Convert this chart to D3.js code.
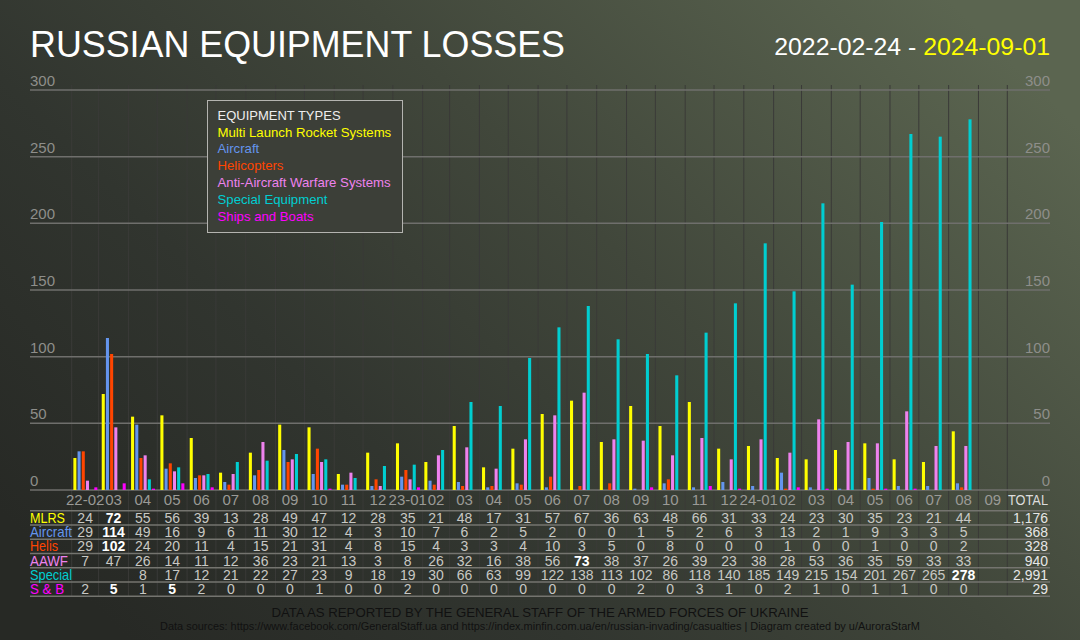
<!DOCTYPE html>
<html>
<head>
<meta charset="utf-8">
<script src="https://cdn.jsdelivr.net/npm/d3@7"></script>
<style>
    body { margin: 0; background: #2b2e2a; }
    svg { display: block; font-family: "Liberation Sans", Arial, sans-serif; }
</style>
</head>
<body>
<svg width="1080" height="640"></svg>
<script>
// Month labels, Feb 2022 .. Sep 2024
var monthLabels = ['22-02','03','04','05','06','07','08','09','10','11','12',
    '23-01','02','03','04','05','06','07','08','09','10','11','12',
    '24-01','02','03','04','05','06','07','08','09'];

// Monthly losses per equipment type (null = no value given)
var mlrs     = [24,72,55,56,39,13,28,49,47,12,28,35,21,48,17,31,57,67,36,63,48,66,31,33,24,23,30,35,23,21,44];
var aircraft = [29,114,49,16,9,6,11,30,12,4,3,10,7,6,2,5,2,0,0,1,5,2,6,3,13,2,1,9,3,3,5];
var helis    = [29,102,24,20,11,4,15,21,31,4,8,15,4,3,3,4,10,3,5,0,8,0,0,0,1,0,0,1,0,0,2];
var aawf     = [7,47,26,14,11,12,36,23,21,13,3,8,26,32,16,38,56,73,38,37,26,39,23,38,28,53,36,35,59,33,33];
var special  = [null,null,8,17,12,21,22,27,23,9,18,19,30,66,63,99,122,138,113,102,86,118,140,185,149,215,154,201,267,265,278];
var shipsBoats = [2,5,1,5,2,0,0,0,1,0,0,2,0,0,0,0,0,0,0,2,0,3,1,0,2,1,0,1,1,0,0];

// Totals as printed in the table
var totals = ['1,176','368','328','940','2,991','29'];

var seriesNames  = ['MLRS','Aircraft','Helis','AAWF','Special','S & B'];
var legendNames  = ['Multi Launch Rocket Systems','Aircraft','Helicopters',
    'Anti-Aircraft Warfare Systems','Special Equipment','Ships and Boats'];
var seriesColors = ['#ffff00','#6495ed','#ff4500','#ee82ee','#00ced1','#ff00ff'];
var seriesValues = [mlrs, aircraft, helis, aawf, special, shipsBoats];

var yTicks = [0,50,100,150,200,250,300];

var svg = d3.select('svg');

// Background gradient, dark on the left to olive on the right
var defs = svg.append('defs');
var grad = defs.append('linearGradient')
    .attr('id','bg')
    .attr('x1','0').attr('y1','0.8')
    .attr('x2','1').attr('y2','0.2');
grad.append('stop').attr('offset','0').attr('stop-color','#272925');
grad.append('stop').attr('offset','0.3').attr('stop-color','#31352f');
grad.append('stop').attr('offset','0.6').attr('stop-color','#41473b');
grad.append('stop').attr('offset','1').attr('stop-color','#5b6550');
svg.append('rect').attr('width',1080).attr('height',640).attr('fill','url(#bg)');

// Scales: time scale for months, band scale for bars inside a month
var firstMonth = new Date(Date.UTC(2022,1,1));
var endMonth = new Date(Date.UTC(2024,9,1));
var x = d3.scaleUtc().domain([firstMonth, endMonth]).range([71.7, 1007.3]);
var y = d3.scaleLinear().domain([0,300]).range([490,90]);
var inner = d3.scaleBand().domain(d3.range(6)).range([-11.8,12.2]).paddingInner(0.27);

function monthStart(i) { return new Date(Date.UTC(2022, 1 + i, 1)); }
function monthMid(i) { return (x(monthStart(i)) + x(monthStart(i + 1))) / 2; }

var tableTop = 510.7;
var rowH = 14.27;
var tableBottom = tableTop + rowH * 6;

// Vertical month lines
svg.append('g').selectAll('line')
    .data(d3.range(monthLabels.length + 1))
    .enter().append('line')
    .attr('x1', function(i){ return x(monthStart(i)); })
    .attr('x2', function(i){ return x(monthStart(i)); })
    .attr('y1', 85)
    .attr('y2', tableBottom)
    .attr('stroke','#3a3a38')
    .attr('stroke-width',1);

// Horizontal grid + y labels on both sides
var grid = svg.append('g');
grid.selectAll('line')
    .data(yTicks)
    .enter().append('line')
    .attr('x1',30).attr('x2',1050)
    .attr('y1', function(d){ return y(d); })
    .attr('y2', function(d){ return y(d); })
    .attr('stroke','#6f6f6c')
    .attr('stroke-width',1.5);
grid.selectAll('.yl')
    .data(yTicks)
    .enter().append('text')
    .attr('class','yl')
    .attr('x',30)
    .attr('y', function(d){ return y(d) - 4; })
    .attr('fill','#8e8e8a')
    .attr('font-size',15)
    .text(function(d){ return d; });
grid.selectAll('.yr')
    .data(yTicks)
    .enter().append('text')
    .attr('class','yr')
    .attr('x',1050)
    .attr('y', function(d){ return y(d) - 4; })
    .attr('text-anchor','end')
    .attr('fill','#8e8e8a')
    .attr('font-size',15)
    .text(function(d){ return d; });

// Bars
var barData = [];
seriesValues.forEach(function(vals, s){
    vals.forEach(function(v, i){
        if (v !== null) barData.push({s: s, i: i, v: v});
    });
});
svg.append('g').selectAll('rect')
    .data(barData)
    .enter().append('rect')
    .attr('x', function(d){ return monthMid(d.i) + inner(d.s); })
    .attr('width', inner.bandwidth())
    .attr('y', function(d){ return y(d.v); })
    .attr('height', function(d){ return y(0) - y(d.v); })
    .attr('fill', function(d){ return seriesColors[d.s]; });

// Legend box
var legend = svg.append('g').attr('transform','translate(207.5,100.5)');
legend.append('rect')
    .attr('width',195).attr('height',132)
    .attr('fill','#3c3f38')
    .attr('stroke','#b4b4b0')
    .attr('stroke-width',1);
legend.append('text')
    .attr('x',10).attr('y',19)
    .attr('fill','#eeeeee')
    .attr('font-size',13)
    .text('EQUIPMENT TYPES');
legend.selectAll('.li')
    .data(legendNames)
    .enter().append('text')
    .attr('class','li')
    .attr('x',10)
    .attr('y', function(d,i){ return 36 + i * 16.9; })
    .attr('fill', function(d,i){ return seriesColors[i]; })
    .attr('font-size',13.2)
    .text(function(d){ return d; });

// Table: header row with month labels
var table = svg.append('g');
table.selectAll('.ml')
    .data(monthLabels)
    .enter().append('text')
    .attr('class','ml')
    .attr('x', function(d,i){ return monthMid(i); })
    .attr('y', 505)
    .attr('text-anchor','middle')
    .attr('fill','#9a9a96')
    .attr('font-size',15)
    .text(function(d){ return d; });
table.append('text')
    .attr('x',1048).attr('y',505)
    .attr('text-anchor','end')
    .attr('fill','#dcdcdc')
    .attr('font-size',15)
    .attr('textLength',40)
    .attr('lengthAdjust','spacingAndGlyphs')
    .text('TOTAL');

// Row separator lines
table.selectAll('.rl')
    .data(d3.range(7))
    .enter().append('line')
    .attr('class','rl')
    .attr('x1',30).attr('x2',1050)
    .attr('y1', function(r){ return tableTop + r * rowH; })
    .attr('y2', function(r){ return tableTop + r * rowH; })
    .attr('stroke','#74746f')
    .attr('stroke-width',1.5);

// Rows (label widths squeezed to fit the first column like the original)
var labelWidths = [35,42,28,38,42,34];
seriesNames.forEach(function(name, s){
    var base = tableTop + s * rowH + rowH / 2 + 5;
    var maxV = d3.max(seriesValues[s]);
    table.append('text')
        .attr('x',30).attr('y',base)
        .attr('fill',seriesColors[s])
        .attr('font-size',14.5)
        .attr('textLength',labelWidths[s])
        .attr('lengthAdjust','spacingAndGlyphs')
        .text(name);
    table.selectAll('.v' + s)
        .data(seriesValues[s])
        .enter().append('text')
        .attr('x', function(d,i){ return monthMid(i); })
        .attr('y', base)
        .attr('text-anchor','middle')
        .attr('font-size',14)
        .attr('font-weight', function(d){ return d === maxV ? 'bold' : 'normal'; })
        .attr('fill', function(d){ return d === maxV ? '#ffffff' : '#c8c8c4'; })
        .text(function(d){ return d === null ? '' : d; });
    table.append('text')
        .attr('x',1048).attr('y',base)
        .attr('text-anchor','end')
        .attr('fill','#e6e6e6')
        .attr('font-size',14)
        .text(totals[s]);
});

// Title and date range
svg.append('text')
    .attr('x',30).attr('y',57)
    .attr('fill','#ffffff')
    .attr('font-size',37)
    .attr('textLength',535)
    .attr('lengthAdjust','spacingAndGlyphs')
    .text('RUSSIAN EQUIPMENT LOSSES');
var dates = svg.append('text')
    .attr('x',1050).attr('y',55)
    .attr('text-anchor','end')
    .attr('font-size',24.8)
    .attr('fill','#ffffff');
dates.append('tspan').text('2022-02-24 - ');
dates.append('tspan').attr('fill','#ffff00').text('2024-09-01');

// Footer
svg.append('text')
    .attr('x',540).attr('y',617)
    .attr('text-anchor','middle')
    .attr('fill','#111111')
    .attr('font-size',13)
    .attr('font-family','"Liberation Sans Narrow", "Arial Narrow", sans-serif')
    .attr('textLength',537)
    .attr('lengthAdjust','spacingAndGlyphs')
    .text('DATA AS REPORTED BY THE GENERAL STAFF OF THE ARMED FORCES OF UKRAINE');
svg.append('text')
    .attr('x',540).attr('y',630)
    .attr('text-anchor','middle')
    .attr('fill','#111111')
    .attr('font-size',11)
    .attr('font-family','"Liberation Sans Narrow", "Arial Narrow", sans-serif')
    .attr('textLength',760)
    .attr('lengthAdjust','spacingAndGlyphs')
    .text('Data sources: https://www.facebook.com/GeneralStaff.ua and https://index.minfin.com.ua/en/russian-invading/casualties | Diagram created by u/AuroraStarM');
</script>
</body>
</html>
